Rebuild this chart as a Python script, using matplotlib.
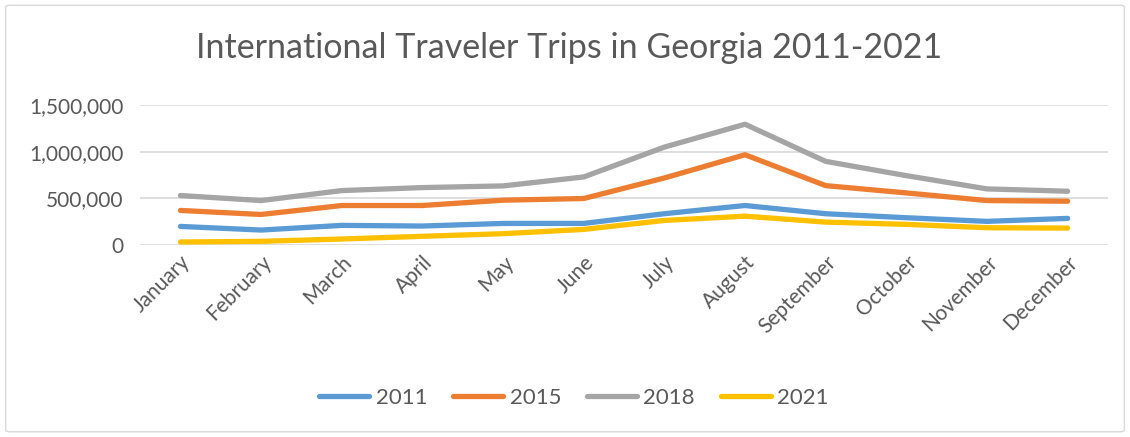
import matplotlib.pyplot as plt
from matplotlib.patches import FancyBboxPatch
from matplotlib.ticker import FuncFormatter

months = ['January', 'February', 'March', 'April', 'May', 'June', 'July',
          'August', 'September', 'October', 'November', 'December']
trips_2011 = [199000, 160000, 210000, 203000, 231000, 231000, 335000, 423000, 335000, 292000, 253000, 285000]
trips_2015 = [370000, 327000, 423000, 423000, 480000, 498000, 718000, 967000, 636000, 558000, 476000, 469000]
trips_2018 = [530000, 476000, 583000, 615000, 633000, 729000, 1049000, 1294000, 896000, 743000, 601000, 576000]
trips_2021 = [32000, 39000, 64000, 93000, 121000, 167000, 263000, 309000, 245000, 221000, 185000, 181000]
years = ['2011', '2015', '2018', '2021']
colors = ['#5B9BD5', '#ED7D31', '#A5A5A5', '#FFC000']

plt.rcParams['font.family'] = ['Lato', 'DejaVu Sans']
text_col = '#595959'

fig = plt.figure(figsize=(11.3, 4.37), dpi=100)
ax = fig.add_axes([0.124, 0.4394, 0.8565, 0.3203])

# outer border like the Excel chart area
fig.patches.append(FancyBboxPatch((0.005, 0.012), 0.99, 0.976, boxstyle='round,pad=0,rounding_size=0.004',
                                  transform=fig.transFigure, fill=False, edgecolor='#d9d9d9', linewidth=1))

x = list(range(len(months)))
for vals, yr, c in zip([trips_2011, trips_2015, trips_2018, trips_2021], years, colors):
    ax.plot(x, vals, color=c, linewidth=3.8, label=yr, solid_capstyle='round', solid_joinstyle='round')

ax.set_xlim(-0.5, 11.5)
ax.set_ylim(0, 1500000)
ax.set_yticks([0, 500000, 1000000, 1500000])
ax.yaxis.set_major_formatter(FuncFormatter(lambda v, p: f'{int(v):,}'))
ax.grid(axis='y', color='#d9d9d9', linewidth=1.2)
ax.set_axisbelow(True)
for s in ax.spines.values():
    s.set_visible(False)
ax.tick_params(length=0, colors=text_col, labelsize=15)
ax.tick_params(axis='y', pad=12)
ax.set_xticks(x)
ax.set_xticklabels(months, rotation=45, ha='right', va='top', rotation_mode='anchor')
ax.tick_params(axis='x', pad=5)

fig.text(0.504, 0.89, 'International Traveler Trips in Georgia 2011-2021', ha='center', va='center',
         fontsize=24.5, color=text_col)

fig.legend(loc='center', bbox_to_anchor=(0.508, 0.09), ncol=4, frameon=False, fontsize=16,
           handlelength=2.25, columnspacing=1.15, handletextpad=0.3, labelcolor=text_col)

fig.savefig('out.png', dpi=100)
